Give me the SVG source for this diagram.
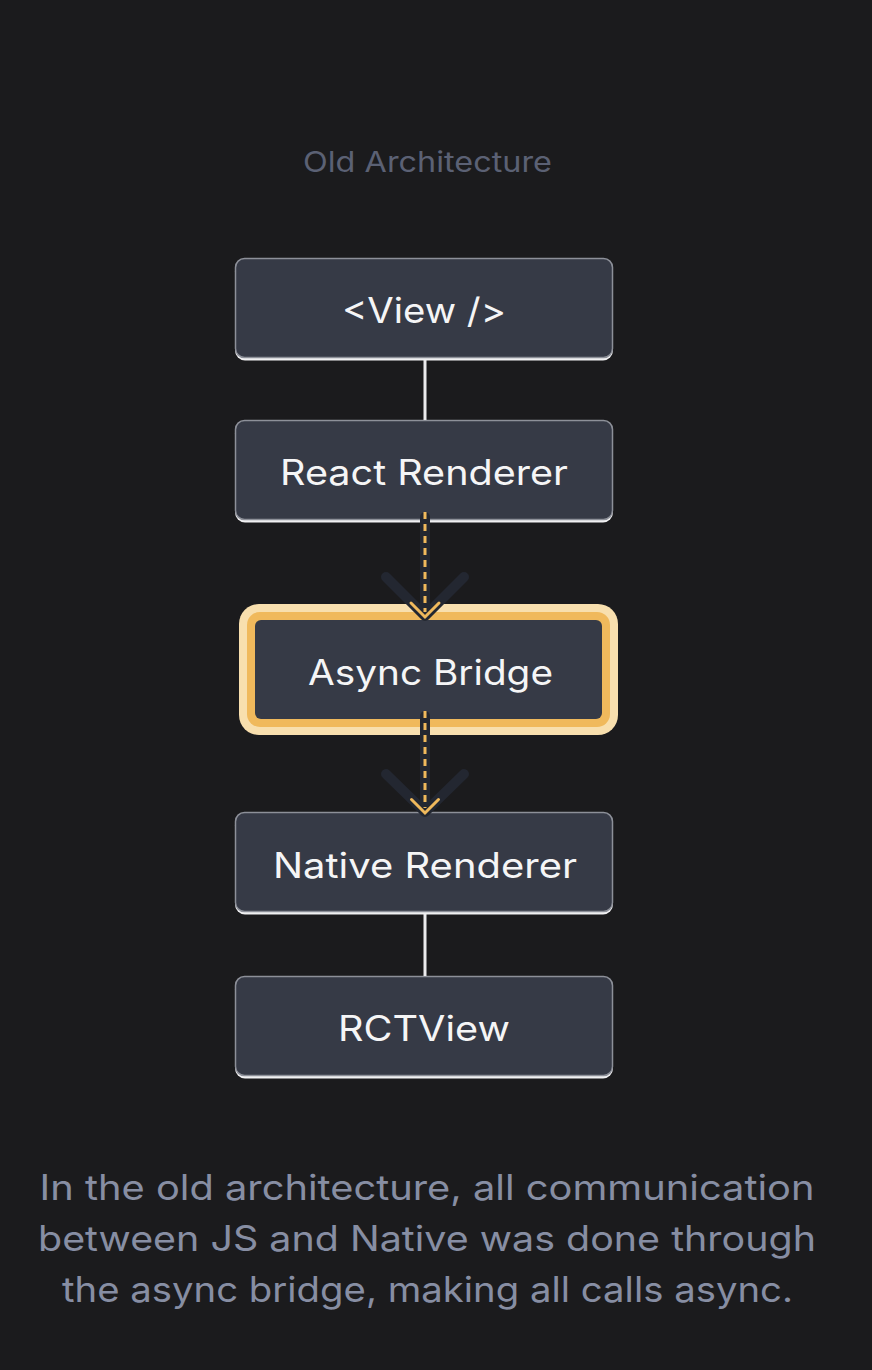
<svg xmlns="http://www.w3.org/2000/svg" width="872" height="1370" viewBox="0 0 872 1370">
<style>
.box{fill:#363a46;stroke:#8d9099;stroke-width:1.5}
.shadow{fill:#f0f0f2}
.lbl{font-family:Inter,"Noto Sans",sans-serif;font-size:35px;fill:#f5f5f6;text-anchor:middle;font-weight:400}
.title{font-family:Inter,"Noto Sans",sans-serif;font-size:28px;fill:#5b6174;text-anchor:middle;font-weight:400}
.cap{font-family:Inter,"Noto Sans",sans-serif;font-size:35px;fill:#878ea3;text-anchor:middle;font-weight:400}
.solid{stroke:#ececee;stroke-width:3;fill:none}
.under{stroke:#232731;stroke-width:10;fill:none;stroke-linecap:round;stroke-linejoin:round}
.dash{stroke:#f0b95c;stroke-width:3;fill:none;stroke-dasharray:7 5}
.head{stroke:#f0b95c;stroke-width:3;fill:none;stroke-linecap:round;stroke-linejoin:miter}
</style>
<rect width="872" height="1370" fill="#1b1b1d"/>
<text class="title" x="427.5" y="172" textLength="249" lengthAdjust="spacingAndGlyphs">Old Architecture</text>

<g id="node-view">
<rect class="shadow" x="235" y="261.5" width="378" height="99" rx="10"/>
<rect class="box" x="235.5" y="258.5" width="377" height="99" rx="9"/>
<text class="lbl" x="424" y="323" textLength="164" lengthAdjust="spacingAndGlyphs">&lt;View /&gt;</text>
</g>
<g id="node-react-renderer">
<rect class="shadow" x="235" y="423.5" width="378" height="99" rx="10"/>
<rect class="box" x="235.5" y="420.5" width="377" height="99" rx="9"/>
<text class="lbl" x="424" y="485" textLength="288" lengthAdjust="spacingAndGlyphs">React Renderer</text>
</g>
<g id="node-async-bridge">
<rect x="239" y="604" width="379" height="131" rx="20" fill="#f8dfae"/>
<rect x="247" y="612" width="363" height="115" rx="13" fill="#f0b95c"/>
<rect x="255" y="620" width="347" height="99" rx="6" fill="#363a46"/>
<text class="lbl" x="430.5" y="685" textLength="245" lengthAdjust="spacingAndGlyphs">Async Bridge</text>
</g>
<g id="node-native-renderer">
<rect class="shadow" x="235" y="815.5" width="378" height="99" rx="10"/>
<rect class="box" x="235.5" y="812.5" width="377" height="99" rx="9"/>
<text class="lbl" x="425" y="878" textLength="304" lengthAdjust="spacingAndGlyphs">Native Renderer</text>
</g>
<g id="node-rctview">
<rect class="shadow" x="235" y="979.5" width="378" height="99" rx="10"/>
<rect class="box" x="235.5" y="976.5" width="377" height="99" rx="9"/>
<text class="lbl" x="424" y="1041" textLength="172" lengthAdjust="spacingAndGlyphs">RCTView</text>
</g>

<g id="connectors">
<line class="solid" x1="425" y1="360" x2="425" y2="420"/>
<line class="solid" x1="425" y1="914" x2="425" y2="976"/>
<g id="edge-react-bridge">
<line class="under" x1="425" y1="517" x2="425" y2="612"/>
<polyline class="under" points="386,577 425,616 464,577"/>
<line class="dash" x1="425" y1="512" x2="425" y2="612"/>
<polyline class="head" points="411,603 425,617 439,603"/>
</g>
<g id="edge-bridge-native">
<line class="under" x1="425" y1="716" x2="425" y2="808"/>
<polyline class="under" points="386,774 425,812 464,774"/>
<line class="dash" x1="425" y1="711" x2="425" y2="808"/>
<polyline class="head" points="411.5,799.5 425,813 438.5,799.5"/>
</g>
</g>

<text class="cap" x="427" y="1200" textLength="775" lengthAdjust="spacingAndGlyphs">In the old architecture, all communication</text>
<text class="cap" x="427" y="1251" textLength="778" lengthAdjust="spacingAndGlyphs">between JS and Native was done through</text>
<text class="cap" x="427.5" y="1302" textLength="731" lengthAdjust="spacingAndGlyphs">the async bridge, making all calls async.</text>
</svg>
